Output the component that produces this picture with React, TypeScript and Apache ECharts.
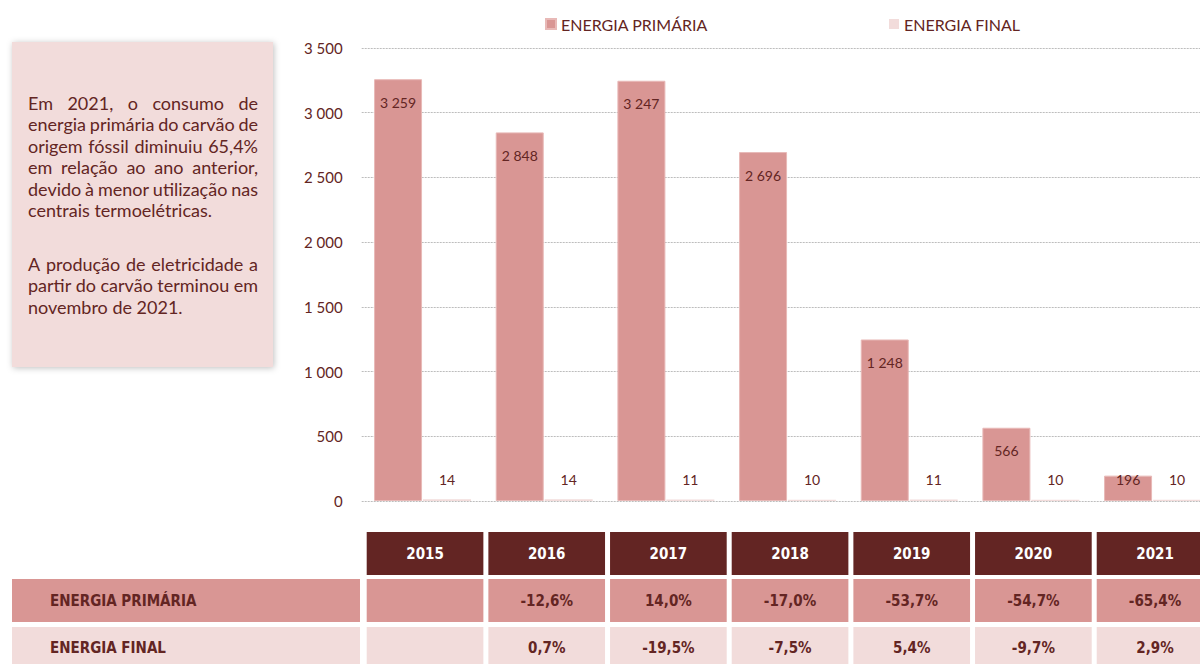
import React, { useEffect, useRef } from "react";
import * as echarts from "echarts";

const years = ["2015", "2016", "2017", "2018", "2019", "2020", "2021"];
const primaryEnergy = [3259, 2848, 3247, 2696, 1248, 566, 196];
const finalEnergy = [14, 14, 11, 10, 11, 10, 10];
const primaryGrowth: (number | null)[] = [null, -12.6, 14.0, -17.0, -53.7, -54.7, -65.4];
const finalGrowth: (number | null)[] = [null, 0.7, -19.5, -7.5, 5.4, -9.7, 2.9];
const yTicks = [0, 500, 1000, 1500, 2000, 2500, 3000, 3500];
const noteParagraphs = [
  [
    "Em 2021, o consumo de",
    "energia primária do carvão de",
    "origem fóssil diminuiu 65,4%",
    "em relação ao ano anterior,",
    "devido à menor utilização nas",
    "centrais termoelétricas.",
  ],
  [
    "A produção de eletricidade a",
    "partir do carvão terminou em",
    "novembro de 2021.",
  ],
];

const DARK = "#632523";
const PRIMARY_C = "#d99694";
const FINAL_C = "#f2dcdb";
const FONT = "Lato, 'Open Sans', sans-serif";
const NARROW = "'Liberation Sans Narrow', 'DejaVu Sans Condensed', Arial, sans-serif";

const CHART_W = 1220;
const GRID_LEFT = 361.7;
const GRID_TOP = 48;
const GRID_BOTTOM_Y = 501;
const CAT_W = 121.67;
const NOTE_FONT = `18px ${FONT}`;
const NOTE_LEFT = 28;
const NOTE_RIGHT = 258;

const fmtNum = (v: number) => String(v).replace(/\B(?=(\d{3})+(?!\d))/g, " ");
const fmtPct = (v: number | null) => (v === null ? "" : v.toFixed(1).replace(".", ",") + "%");

export default function App() {
  const ref = useRef<HTMLDivElement>(null);
  useEffect(() => {
    if (!ref.current) return;
    const chart = echarts.init(ref.current, null, { renderer: "svg" });

    const canvas = document.createElement("canvas");
    const ctx = canvas.getContext("2d") as CanvasRenderingContext2D;
    ctx.font = NOTE_FONT;

    const graphics: any[] = [];
    graphics.push({
      type: "rect",
      shape: { x: 12, y: 42, width: 261, height: 325 },
      style: { fill: FINAL_C, shadowBlur: 6, shadowColor: "rgba(0,0,0,0.25)", shadowOffsetX: 1, shadowOffsetY: 1 },
      z: 1,
    });
    const paraTops = [103, 264];
    noteParagraphs.forEach((lines, p) => {
      lines.forEach((line, i) => {
        const y = paraTops[p] + i * 21.4;
        const justify = i < lines.length - 1;
        if (!justify) {
          graphics.push({
            type: "text", x: NOTE_LEFT, y,
            style: { text: line, font: NOTE_FONT, fill: DARK, textVerticalAlign: "middle", textAlign: "left" },
            z: 2,
          });
          return;
        }
        const words = line.split(" ");
        const widths = words.map((w) => ctx.measureText(w).width);
        const total = widths.reduce((a, b) => a + b, 0);
        const gap = (NOTE_RIGHT - NOTE_LEFT - total) / (words.length - 1);
        let x = NOTE_LEFT;
        words.forEach((w, k) => {
          graphics.push({
            type: "text", x, y,
            style: { text: w, font: NOTE_FONT, fill: DARK, textVerticalAlign: "middle", textAlign: "left" },
            z: 2,
          });
          x += widths[k] + gap;
        });
      });
    });

    const headerY = 532, headerH = 43;
    const row1Y = 579, row2Y = 627, rowH = 43;
    graphics.push({ type: "rect", shape: { x: 12, y: row1Y, width: 348, height: rowH }, style: { fill: PRIMARY_C } });
    graphics.push({ type: "rect", shape: { x: 12, y: row2Y, width: 348, height: rowH }, style: { fill: FINAL_C } });
    graphics.push({
      type: "text", x: 50, y: row1Y + rowH / 2,
      style: { text: "ENERGIA PRIMÁRIA", font: `bold 15px ${NARROW}`, fill: DARK, textVerticalAlign: "middle" },
    });
    graphics.push({
      type: "text", x: 50, y: row2Y + 21,
      style: { text: "ENERGIA FINAL", font: `bold 15px ${NARROW}`, fill: DARK, textVerticalAlign: "middle" },
    });
    years.forEach((y, i) => {
      const x = GRID_LEFT + CAT_W * i + 5;
      const w = CAT_W - 5;
      const cx = x + w / 2;
      graphics.push({ type: "rect", shape: { x, y: headerY, width: w, height: headerH }, style: { fill: DARK } });
      graphics.push({ type: "rect", shape: { x, y: row1Y, width: w, height: rowH }, style: { fill: PRIMARY_C } });
      graphics.push({ type: "rect", shape: { x, y: row2Y, width: w, height: rowH }, style: { fill: FINAL_C } });
      graphics.push({
        type: "text", x: cx, y: headerY + headerH / 2,
        style: { text: y, font: `bold 15px ${NARROW}`, fill: "#ffffff", textAlign: "center", textVerticalAlign: "middle" },
      });
      graphics.push({
        type: "text", x: cx, y: row1Y + rowH / 2,
        style: { text: fmtPct(primaryGrowth[i]), font: `bold 15px ${NARROW}`, fill: DARK, textAlign: "center", textVerticalAlign: "middle" },
      });
      graphics.push({
        type: "text", x: cx, y: row2Y + 21,
        style: { text: fmtPct(finalGrowth[i]), font: `bold 15px ${NARROW}`, fill: DARK, textAlign: "center", textVerticalAlign: "middle" },
      });
    });

    const legendText = { color: DARK, fontSize: 16, fontFamily: FONT };
    const option: any = {
      animation: false,
      backgroundColor: "#ffffff",
      legend: [
        {
          data: ["ENERGIA PRIMÁRIA"],
          left: 545, top: 16, padding: 0,
          itemWidth: 10, itemHeight: 10, itemGap: 6, icon: "rect",
          textStyle: legendText,
        },
        {
          data: ["ENERGIA FINAL"],
          left: 889, top: 16, padding: 0,
          itemWidth: 10, itemHeight: 10, icon: "rect",
          textStyle: legendText,
        },
      ],
      grid: {
        left: GRID_LEFT,
        top: GRID_TOP,
        right: CHART_W - (GRID_LEFT + CAT_W * years.length),
        bottom: 664 - GRID_BOTTOM_Y,
        containLabel: false,
      },
      xAxis: {
        type: "category",
        data: years,
        axisLine: { show: false },
        axisTick: { show: false },
        axisLabel: { show: false },
      },
      yAxis: {
        type: "value",
        min: yTicks[0],
        max: yTicks[yTicks.length - 1],
        interval: 500,
        axisLine: { show: false },
        axisTick: { show: false },
        axisLabel: {
          color: DARK, fontSize: 15, fontFamily: FONT, margin: 19,
          formatter: (v: number) => fmtNum(v),
        },
        splitLine: { lineStyle: { color: "#bdbdbd", type: [2, 1], width: 1 } },
      },
      series: [
        {
          name: "ENERGIA PRIMÁRIA",
          type: "bar",
          barWidth: 48,
          barGap: "2%",
          itemStyle: { color: PRIMARY_C, borderColor: "#e8b9b7", borderWidth: 1 },
          label: {
            show: true, position: "insideTop", distance: 16,
            color: DARK, fontSize: 14, fontFamily: FONT,
            formatter: (p: any) => fmtNum(p.value),
          },
          data: primaryEnergy.map((v, i) =>
            i === primaryEnergy.length - 1 ? { value: v, label: { distance: -3 } } : v
          ),
        },
        {
          name: "ENERGIA FINAL",
          type: "bar",
          barWidth: 48,
          itemStyle: { color: FINAL_C },
          label: {
            show: true, position: "top", distance: 13,
            color: DARK, fontSize: 14, fontFamily: FONT,
            formatter: (p: any) => fmtNum(p.value),
          },
          data: finalEnergy,
        },
      ],
      graphic: graphics,
    };
    chart.setOption(option);
    return () => chart.dispose();
  }, []);

  return (
    <div style={{ position: "absolute", left: 0, top: 0, width: 1200, height: 664, overflow: "hidden" }}>
      <div ref={ref} style={{ width: CHART_W, height: 664 }} />
    </div>
  );
}
